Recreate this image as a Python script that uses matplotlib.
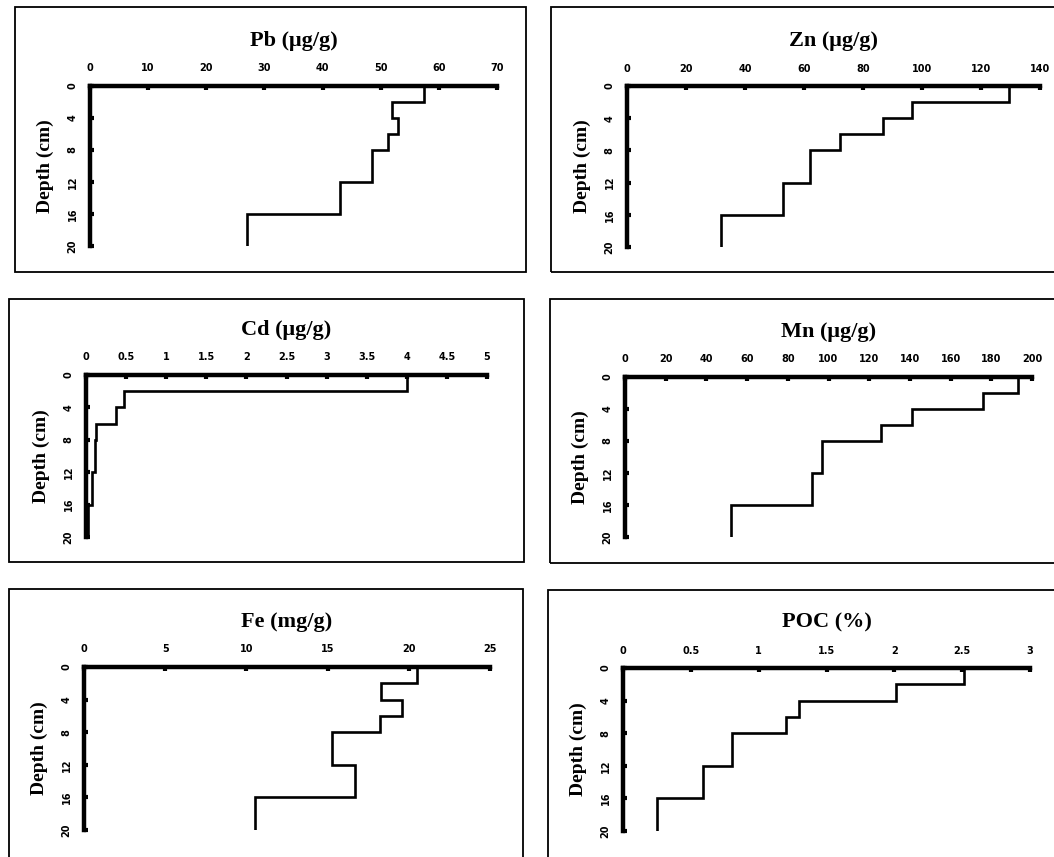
import matplotlib
matplotlib.use("Agg")
import matplotlib.pyplot as plt
from matplotlib.patches import Rectangle

# Depth interval edges (cm)
depth_edges = [0, 2, 4, 6, 8, 12, 16, 20]
depth_ticks = [0, 4, 8, 12, 16, 20]

# Concentrations per depth interval
pb = [57.5, 52, 53, 51.3, 48.5, 43, 27]
zn = [129.5, 96.5, 86.7, 72.3, 62, 53, 32]
cd = [4.0, 0.48, 0.37, 0.13, 0.11, 0.07, 0.02]
mn = [193, 176, 141, 126, 97, 92, 52]
fe = [20.5, 18.3, 19.6, 18.2, 15.3, 16.7, 10.5]
poc = [2.51, 2.01, 1.30, 1.20, 0.80, 0.59, 0.25]

titles = ["Pb (μg/g)", "Zn (μg/g)", "Cd (μg/g)", "Mn (μg/g)", "Fe (mg/g)", "POC (%)"]
series = [pb, zn, cd, mn, fe, poc]
xticks = [
    [0, 10, 20, 30, 40, 50, 60, 70],
    [0, 20, 40, 60, 80, 100, 120, 140],
    [0, 0.5, 1, 1.5, 2, 2.5, 3, 3.5, 4, 4.5, 5],
    [0, 20, 40, 60, 80, 100, 120, 140, 160, 180, 200],
    [0, 5, 10, 15, 20, 25],
    [0, 0.5, 1, 1.5, 2, 2.5, 3],
]

W, H = 1054, 857
fig = plt.figure(figsize=(W / 100, H / 100), dpi=100)

# axes boxes in pixels: left, right, top, bottom
axes_px = [
    (90, 497, 86, 246),
    (627, 1040, 86, 247),
    (86, 487, 375, 537),
    (625, 1032, 377, 537),
    (84, 490, 667, 830),
    (623, 1030, 668, 831),
]
# panel frames in pixels: left, top, right, bottom
frames_px = [
    (15, 7, 526, 272),
    (551, 7, 1070, 272),
    (9, 299, 524, 562),
    (550, 299, 1070, 563),
    (9, 589, 523, 880),
    (548, 590, 1070, 880),
]

for (l, t, r, b) in frames_px:
    fig.patches.append(Rectangle((l / W, 1 - b / H), (r - l) / W, (b - t) / H,
                                 transform=fig.transFigure, fill=False,
                                 edgecolor="black", linewidth=1.3))

serif = "Liberation Serif"
for (l, r, t, b), title, vals, xt in zip(axes_px, titles, series, xticks):
    ax = fig.add_axes([l / W, 1 - b / H, (r - l) / W, (b - t) / H])
    ax.stairs(vals, depth_edges, orientation="horizontal", baseline=None,
              color="black", linewidth=1.9)
    ax.set_xlim(0, xt[-1])
    ax.set_ylim(20, 0)
    ax.xaxis.tick_top()
    ax.set_xticks(xt)
    ax.set_xticklabels([f"{v:g}" for v in xt], fontsize=7, fontweight="bold",
                       family="DejaVu Sans")
    ax.set_yticks(depth_ticks)
    ax.set_yticklabels([str(v) for v in depth_ticks], fontsize=7, fontweight="bold",
                       family="DejaVu Sans", rotation=90, va="center")
    ax.tick_params(axis="both", direction="in", length=3, width=3, pad=9)
    for s in ["bottom", "right"]:
        ax.spines[s].set_visible(False)
    for s in ["top", "left"]:
        ax.spines[s].set_linewidth(3.2)
    ax.set_title(title, fontsize=16, fontweight="bold", family=serif, pad=29)
    ax.set_ylabel("Depth (cm)", fontsize=14, fontweight="bold", family=serif,
                  labelpad=10)
    ax.patch.set_alpha(0)

fig.savefig("out.png", dpi=100, facecolor="white")
